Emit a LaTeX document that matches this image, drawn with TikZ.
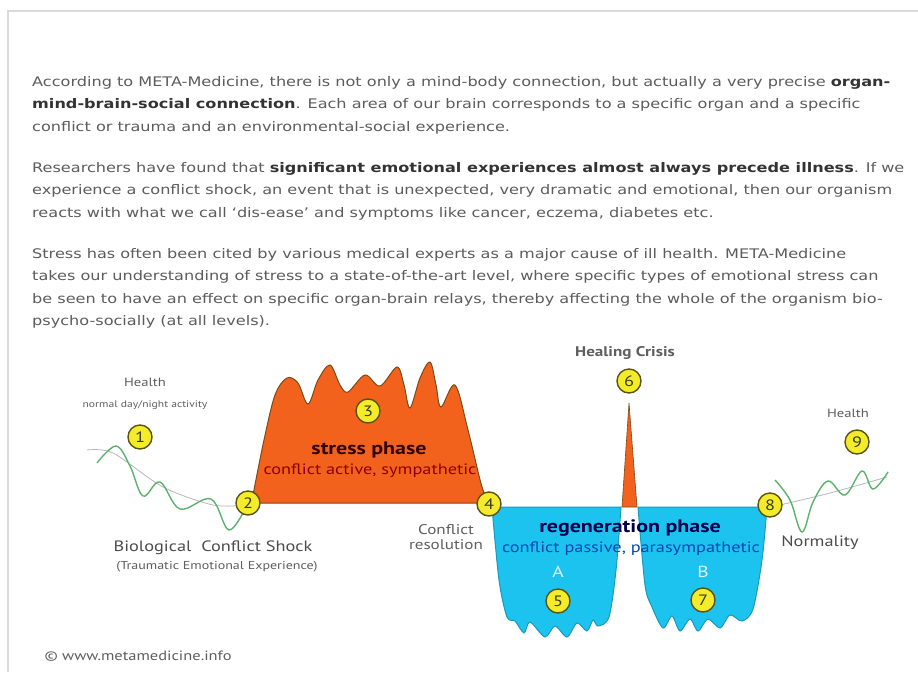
\documentclass[tikz,border=0pt]{standalone}
\usepackage{fontspec}
\setmainfont[FakeStretch=1.22]{DejaVu Sans}
\newfontfamily\diagfont[FakeStretch=1.22]{PT Sans}
\definecolor{bodygray}{HTML}{5C5C5C}
\definecolor{boldgray}{HTML}{333333}
\definecolor{framegray}{HTML}{DADADA}
\definecolor{lblgray}{HTML}{5E5E5E}
\definecolor{dotfill}{HTML}{F4EC2A}
\definecolor{dotrim}{HTML}{5A5410}
\definecolor{numtext}{HTML}{3A3A20}
\definecolor{stressorange}{HTML}{F2621C}
\definecolor{stressrim}{HTML}{7A4A18}
\definecolor{regenblue}{HTML}{1CC3EE}
\definecolor{regenrim}{HTML}{1A9AB8}
\definecolor{wavegreen}{HTML}{5DB36E}
\definecolor{trendgray}{HTML}{B8B8B8}
\begin{document}
\begin{tikzpicture}[x=1pt, y=-1pt,
        para/.style={anchor=north west, inner sep=0pt, align=left, text=bodygray,
            font=\fontsize{13.2}{22.5}\selectfont},
        numdot/.style={circle, draw=dotrim, fill=dotfill, line width=1.4pt, minimum size=24pt,
            inner sep=0pt, text=numtext, font=\diagfont\fontsize{15}{15}\selectfont},
        lbl/.style={align=center, text=lblgray, font=\diagfont\fontsize{14}{15.5}\selectfont},
        stress/.style={fill=stressorange, draw=stressrim, line width=1pt},
        regen/.style={fill=regenblue, draw=regenrim, line width=1pt},
        wave/.style={wavegreen, line width=1.4pt},
        trend/.style={trendgray, line width=0.8pt}]
    \useasboundingbox (0,0) rectangle (918,672);
    \fill[white] (0,0) rectangle (918,672);
    \draw[framegray, line width=2pt] (8,672) -- (8,11) -- (918,11);

    % text above the diagram
    \node[para] (para1) at (32,76) {According to META-Medicine, there is not only a mind-body connection, but actually a very precise \textcolor{boldgray}{\bfseries organ-}\\
        \textcolor{boldgray}{\bfseries mind-brain-social connection}. Each area of our brain corresponds to a specific organ and a specific\\
        conflict or trauma and an environmental-social experience.};
    \node[para] (para2) at (32,162) {Researchers have found that \textcolor{boldgray}{\bfseries significant emotional experiences almost always precede illness}. If we\\
        experience a conflict shock, an event that is unexpected, very dramatic and emotional, then our organism\\
        reacts with what we call `dis-ease' and symptoms like cancer, eczema, diabetes etc.};
    \node[para] (para3) at (32,248) {Stress has often been cited by various medical experts as a major cause of ill health. META-Medicine\\
        takes our understanding of stress to a state-of-the-art level, where specific types of emotional stress can\\
        be seen to have an effect on specific organ-brain relays, thereby affecting the whole of the organism bio-\\
        psycho-socially (at all levels).};

    % curves
    \draw[trend] plot[smooth] coordinates {(87,450) (113,453) (163,487) (213,505) (245,505)};
    \draw[wave] plot[smooth, tension=0.6] coordinates {(97,463) (116,446) (130,466) (143,496) (160,482) (180,509) (211,499) (229,530) (247,505)};
    \draw[trend] plot[smooth] coordinates {(780,505) (830,493) (887,477)};
    \draw[wave] plot[smooth, tension=0.6] coordinates {(775,480) (790,500) (802,532) (813,502) (828,481) (845,495) (862,471) (873,489) (888,472)};

    % stress phase
    \draw[stress] (248,503) -- plot[smooth, tension=0.55] coordinates {(253,495) (264,440) (275,395) (287,378) (298,383) (308,404) (318,380) (330,365) (340,385) (348,392) (365,375) (380,386) (397,367) (404,385) (410,408) (420,378) (430,362) (436,385) (441,407) (455,385) (468,430) (482,487) (490,503)} -- cycle;
    % healing crisis spike
    \draw[stress, line width=0.6pt] (622,507) -- (629,403) -- (637,507) -- cycle;
    % regeneration phase A and B
    \draw[regen] (492,507) -- (621,507) -- plot[smooth, tension=0.5] coordinates {(621,507) (616,570) (609,617) (598,626) (593,620) (587,631) (577,623) (567,637) (555,626) (545,637) (530,622) (524,633) (515,621) (507,617) (499,580) (492,507)} -- cycle;
    \draw[regen] (767,507) -- (638,507) -- plot[smooth, tension=0.5] coordinates {(638,507) (645,585) (652,607) (663,628) (672,616) (680,631) (690,619) (698,631) (708,619) (720,628) (730,615) (742,621) (753,609) (762,560) (767,507)} -- cycle;

    % phase texts
    \node[font=\diagfont\bfseries\fontsize{18}{18}\selectfont, text=black!80!red] (stresstitle) at (369,450) {stress phase};
    \node[font=\diagfont\fontsize{15}{15}\selectfont, text=red!55!black] (stresssub) at (370,471) {conflict active, sympathetic};
    \node[font=\diagfont\bfseries\fontsize{18}{18}\selectfont, text=blue!30!black] (regentitle) at (630,528) {regeneration phase};
    \node[font=\diagfont\fontsize{15}{15}\selectfont, text=blue!60!cyan!70!black] (regensub) at (631,549) {conflict passive, parasympathetic};
    \node[font=\diagfont\fontsize{16}{16}\selectfont, text=cyan!15] (partA) at (558,572) {A};
    \node[font=\diagfont\fontsize{16}{16}\selectfont, text=cyan!15] (partB) at (703,572) {B};

    % labels
    \node[lbl, font=\diagfont\fontsize{12}{12}\selectfont] (health1) at (145,382) {Health};
    \node[lbl, font=\diagfont\fontsize{9.5}{10}\selectfont] (activity) at (145,405) {normal day/night activity};
    \node[lbl, text=black!70, font=\diagfont\fontsize{15}{15}\selectfont] (shock) at (213,548) {Biological\ \ Conflict Shock};
    \node[lbl, font=\diagfont\fontsize{11.5}{12}\selectfont] (trauma) at (217,567) {(Traumatic Emotional Experience)};
    \node[lbl] (resolution) at (446,537) {Conflict\\resolution};
    \node[lbl, font=\diagfont\bfseries\fontsize{14}{14}\selectfont] (crisis) at (625,353) {Healing Crisis};
    \node[lbl, font=\diagfont\fontsize{12}{12}\selectfont] (health9) at (848,413) {Health};
    \node[lbl, text=black!70, font=\diagfont\fontsize{15}{15}\selectfont] (normality) at (820,543) {Normality};
    \node[lbl, anchor=west, font=\diagfont\fontsize{13.5}{13.5}\selectfont] (copyright) at (41,656) {\textcopyright\ www.metamedicine.info};

    % numbered points
    \foreach \n/\x/\y in {1/140/437, 2/248/503, 3/368/411, 4/489/504, 5/558/601,
                          6/629/381, 7/703/600, 8/770/505, 9/857/442}
        \node[numdot] (p\n) at (\x,\y) {\n};
\end{tikzpicture}
\end{document}
